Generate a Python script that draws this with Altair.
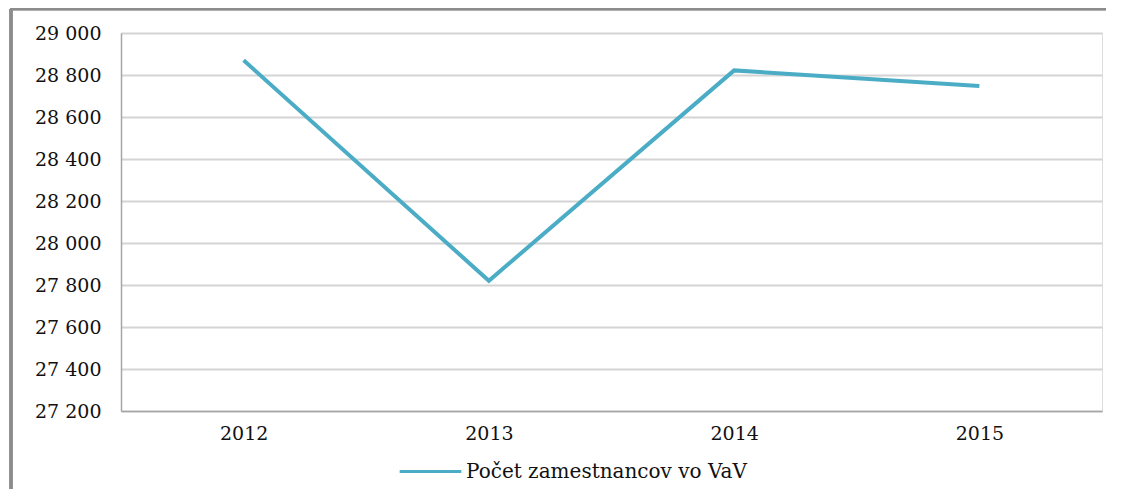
import altair as alt
import pandas as pd

years = ["2012", "2013", "2014", "2015"]
values = [28870, 27820, 28822, 28748]
series = "Počet zamestnancov vo VaV"
y_ticks = [27200, 27400, 27600, 27800, 28000, 28200, 28400, 28600, 28800, 29000]

df = pd.DataFrame({"rok": years, "pocet": values, "seria": [series] * len(years)})

FONT = "DejaVu Serif"

line = alt.Chart(df).mark_line(strokeWidth=4, color="#4BACC6").encode(
    x=alt.X("rok:N", title=None, sort=years,
            scale=alt.Scale(type="point", padding=0.5),
            axis=alt.Axis(labelAngle=0, ticks=False, grid=False, domainColor="#a6a6a6",
                          domainWidth=1.5, labelFont=FONT, labelFontSize=19,
                          labelColor="#111", labelPadding=13)),
    y=alt.Y("pocet:Q", title=None,
            scale=alt.Scale(domain=[27200, 29000], nice=False, zero=False),
            axis=alt.Axis(values=y_ticks, ticks=False, grid=True, gridColor="#d4d4d4",
                          gridWidth=2, domainColor="#a6a6a6", domainWidth=1.5,
                          labelFont=FONT, labelFontSize=19, labelColor="#111",
                          labelPadding=20,
                          labelExpr="replace(format(datum.value, ','), ',', ' ')")),
    stroke=alt.Stroke("seria:N", title=None,
                      scale=alt.Scale(range=["#4BACC6"]),
                      legend=alt.Legend(orient="none", legendX=277, legendY=406,
                                        symbolType="stroke", symbolSize=3800,
                                        symbolStrokeWidth=3, labelFont=FONT,
                                        labelFontSize=20, labelColor="#111",
                                        labelLimit=500, labelOffset=3)),
)

frame_left = alt.Chart(df).mark_rule(color="#8c8c8c", strokeWidth=3).encode(
    x=alt.value(-110), y=alt.value(-24), y2=alt.value(470))
frame_top = alt.Chart(df).mark_rule(color="#8c8c8c", strokeWidth=2.5).encode(
    x=alt.value(-111), x2=alt.value(990), y=alt.value(-24))

chart = alt.layer(line, frame_left, frame_top).properties(
    width=981, height=378,
    autosize=alt.AutoSizeParams(type="none"),
    padding={"left": 113, "top": 25, "right": 4, "bottom": 78},
).configure_view(stroke=None).configure(
    background="white", font=FONT
).configure_legend(labelFont=FONT, labelFontSize=20, labelColor="#111", labelLimit=500)

chart.save("out.html", embed_options={"renderer": "svg", "actions": False})
